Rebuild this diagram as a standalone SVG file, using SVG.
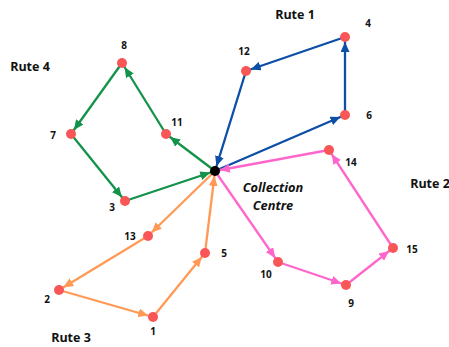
<svg xmlns="http://www.w3.org/2000/svg" width="449" height="347" viewBox="0 0 449 347">
<style>
.e{stroke-width:2.3;fill:none}
.b{stroke:#0d4ea6;marker-end:url(#mb)}
.p{stroke:#ff66cc;marker-end:url(#mp)}
.o{stroke:#ff9955;marker-end:url(#mo)}
.g{stroke:#13934a;marker-end:url(#mg)}
.n{fill:#f95757}
.l{font-family:"Open Sans","DejaVu Sans",sans-serif;font-weight:bold;font-size:10px;fill:#111}
.t{font-family:"Open Sans","DejaVu Sans",sans-serif;font-weight:bold;font-size:12.5px;fill:#111}
.c{font-family:"Open Sans","DejaVu Sans",sans-serif;font-weight:bold;font-style:italic;font-size:12.8px;fill:#111}
</style>
<defs>
<marker id="mb" viewBox="0 0 15 9" refX="15" refY="4.5" markerWidth="15" markerHeight="9" markerUnits="userSpaceOnUse" orient="auto"><path d="M0,0 L10,4.5 L0,9 z" fill="#0d4ea6"/></marker>
<marker id="mp" viewBox="0 0 15 9" refX="15" refY="4.5" markerWidth="15" markerHeight="9" markerUnits="userSpaceOnUse" orient="auto"><path d="M0,0 L10,4.5 L0,9 z" fill="#ff66cc"/></marker>
<marker id="mo" viewBox="0 0 15 9" refX="15" refY="4.5" markerWidth="15" markerHeight="9" markerUnits="userSpaceOnUse" orient="auto"><path d="M0,0 L10,4.5 L0,9 z" fill="#ff9955"/></marker>
<marker id="mg" viewBox="0 0 15 9" refX="15" refY="4.5" markerWidth="15" markerHeight="9" markerUnits="userSpaceOnUse" orient="auto"><path d="M0,0 L10,4.5 L0,9 z" fill="#13934a"/></marker>
</defs>
<g id="connectors">
<line class="e b" x1="215" y1="171" x2="345" y2="115"/>
<line class="e b" x1="345" y1="115" x2="345" y2="37"/>
<line class="e b" x1="345" y1="37" x2="246" y2="71"/>
<line class="e b" x1="246" y1="71" x2="215" y2="171"/>
<line class="e p" x1="215" y1="171" x2="278" y2="262"/>
<line class="e p" x1="278" y1="262" x2="346" y2="285"/>
<line class="e p" x1="346" y1="285" x2="393" y2="248"/>
<line class="e p" x1="393" y1="248" x2="329" y2="150"/>
<line class="e p" x1="329" y1="150" x2="215" y2="171"/>
<line class="e o" x1="215" y1="171" x2="148" y2="236"/>
<line class="e o" x1="148" y1="236" x2="59" y2="290"/>
<line class="e o" x1="59" y1="290" x2="153" y2="317"/>
<line class="e o" x1="153" y1="317" x2="205" y2="253"/>
<line class="e o" x1="205" y1="253" x2="215" y2="171"/>
<line class="e g" x1="215" y1="171" x2="166" y2="134"/>
<line class="e g" x1="166" y1="134" x2="122" y2="63"/>
<line class="e g" x1="122" y1="63" x2="71" y2="134"/>
<line class="e g" x1="71" y1="134" x2="125" y2="201"/>
<line class="e g" x1="125" y1="201" x2="215" y2="171"/>
</g>
<g id="centre"><circle cx="215" cy="171" r="5" fill="#000"/><text class="c" x="273" y="192" text-anchor="middle">Collection</text><text class="c" x="273" y="210" text-anchor="middle">Centre</text></g>
<g id="n1"><circle class="n" cx="153" cy="317" r="5"/><text class="l" x="153" y="335" text-anchor="middle">1</text></g>
<g id="n2"><circle class="n" cx="59" cy="290" r="5"/><text class="l" x="47" y="303" text-anchor="middle">2</text></g>
<g id="n3"><circle class="n" cx="125" cy="201" r="5"/><text class="l" x="112" y="211" text-anchor="middle">3</text></g>
<g id="n4"><circle class="n" cx="345" cy="37" r="5"/><text class="l" x="368" y="27" text-anchor="middle">4</text></g>
<g id="n5"><circle class="n" cx="205" cy="253" r="5"/><text class="l" x="224" y="257" text-anchor="middle">5</text></g>
<g id="n6"><circle class="n" cx="345" cy="115" r="5"/><text class="l" x="369" y="119" text-anchor="middle">6</text></g>
<g id="n7"><circle class="n" cx="71" cy="134" r="5"/><text class="l" x="53" y="139" text-anchor="middle">7</text></g>
<g id="n8"><circle class="n" cx="122" cy="63" r="5"/><text class="l" x="124" y="49" text-anchor="middle">8</text></g>
<g id="n9"><circle class="n" cx="346" cy="285" r="5"/><text class="l" x="351" y="307" text-anchor="middle">9</text></g>
<g id="n10"><circle class="n" cx="278" cy="262" r="5"/><text class="l" x="266" y="278" text-anchor="middle">10</text></g>
<g id="n11"><circle class="n" cx="166" cy="134" r="5"/><text class="l" x="177" y="126" text-anchor="middle">11</text></g>
<g id="n12"><circle class="n" cx="246" cy="71" r="5"/><text class="l" x="244" y="55" text-anchor="middle">12</text></g>
<g id="n13"><circle class="n" cx="148" cy="236" r="5"/><text class="l" x="130" y="240" text-anchor="middle">13</text></g>
<g id="n14"><circle class="n" cx="329" cy="150" r="5"/><text class="l" x="351" y="166" text-anchor="middle">14</text></g>
<g id="n15"><circle class="n" cx="393" cy="248" r="5"/><text class="l" x="412" y="253" text-anchor="middle">15</text></g>
<g id="titles">
<text class="t" x="295" y="19" text-anchor="middle">Rute 1</text>
<text class="t" x="30" y="71" text-anchor="middle">Rute 4</text>
<text class="t" x="71" y="342" text-anchor="middle">Rute 3</text>
<text class="t" x="430" y="188" text-anchor="middle">Rute 2</text>
</g>
</svg>
